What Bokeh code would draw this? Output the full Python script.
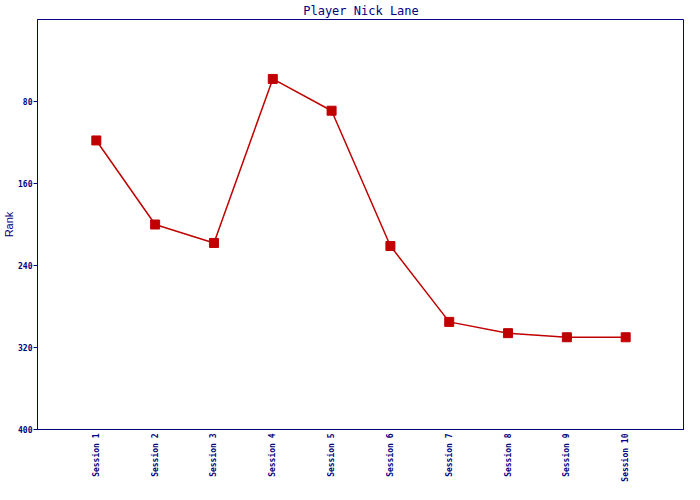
import math
from bokeh.plotting import figure
from bokeh.models import Range1d, FixedTicker
from bokeh.embed import file_html
from bokeh.resources import INLINE

categories = ["Session 1", "Session 2", "Session 3", "Session 4", "Session 5",
              "Session 6", "Session 7", "Session 8", "Session 9", "Session 10"]
ranks = [118, 200, 218, 58, 89, 221, 295, 306, 310, 310]
y_ticks = [80, 160, 240, 320, 400]

NAVY = "#000080"
RED = "#C00000"
MONO = "DejaVu Sans Mono"

xs = list(range(1, len(categories) + 1))

p = figure(width=684, height=484, output_backend="svg", toolbar_location=None,
           x_range=Range1d(0, len(categories) + 1), y_range=Range1d(400, 0),
           min_border_left=0, min_border_right=0, min_border_top=0, min_border_bottom=0,
           background_fill_color="white", border_fill_color="white")

p.title.text = "Player Nick Lane"
p.title.align = "center"
p.title.text_font = MONO
p.title.text_font_size = "12px"
p.title.text_font_style = "normal"
p.title.text_color = NAVY
p.title.standoff = 3
p.title.offset = 0

p.outline_line_color = NAVY
p.outline_line_width = 1
p.outline_line_alpha = 1
p.xgrid.visible = False
p.ygrid.visible = False

# y axis
ya = p.yaxis[0]
ya.ticker = FixedTicker(ticks=y_ticks)
ya.axis_line_color = NAVY
ya.major_tick_line_color = NAVY
ya.major_tick_out = 4
ya.major_tick_in = 0
ya.minor_tick_line_color = None
ya.major_label_text_font = MONO
ya.major_label_text_font_size = "8px"
ya.major_label_text_font_style = "bold"
ya.major_label_text_color = NAVY
ya.major_label_standoff = 1
ya.axis_label = "Rank"
ya.axis_label_text_font = "Liberation Sans"
ya.axis_label_text_font_size = "11px"
ya.axis_label_text_font_style = "normal"
ya.axis_label_text_color = NAVY
ya.axis_label_standoff = 0

# x axis
xa = p.xaxis[0]
xa.ticker = FixedTicker(ticks=xs)
xa.major_label_overrides = {x: c for x, c in zip(xs, categories)}
xa.major_label_orientation = math.pi / 2
xa.axis_line_color = NAVY
xa.major_tick_line_color = None
xa.major_tick_out = 0
xa.major_tick_in = 0
xa.minor_tick_line_color = None
xa.major_label_text_font = MONO
xa.major_label_text_font_size = "8px"
xa.major_label_text_font_style = "bold"
xa.major_label_text_line_height = 0.5
xa.major_label_text_color = NAVY
xa.major_label_standoff = 4

p.line(xs, ranks, line_color=RED, line_width=1.5)
p.scatter(xs, ranks, marker="square", size=9, fill_color=RED, line_color=RED)

open("out.html", "w").write(file_html(p, INLINE))
